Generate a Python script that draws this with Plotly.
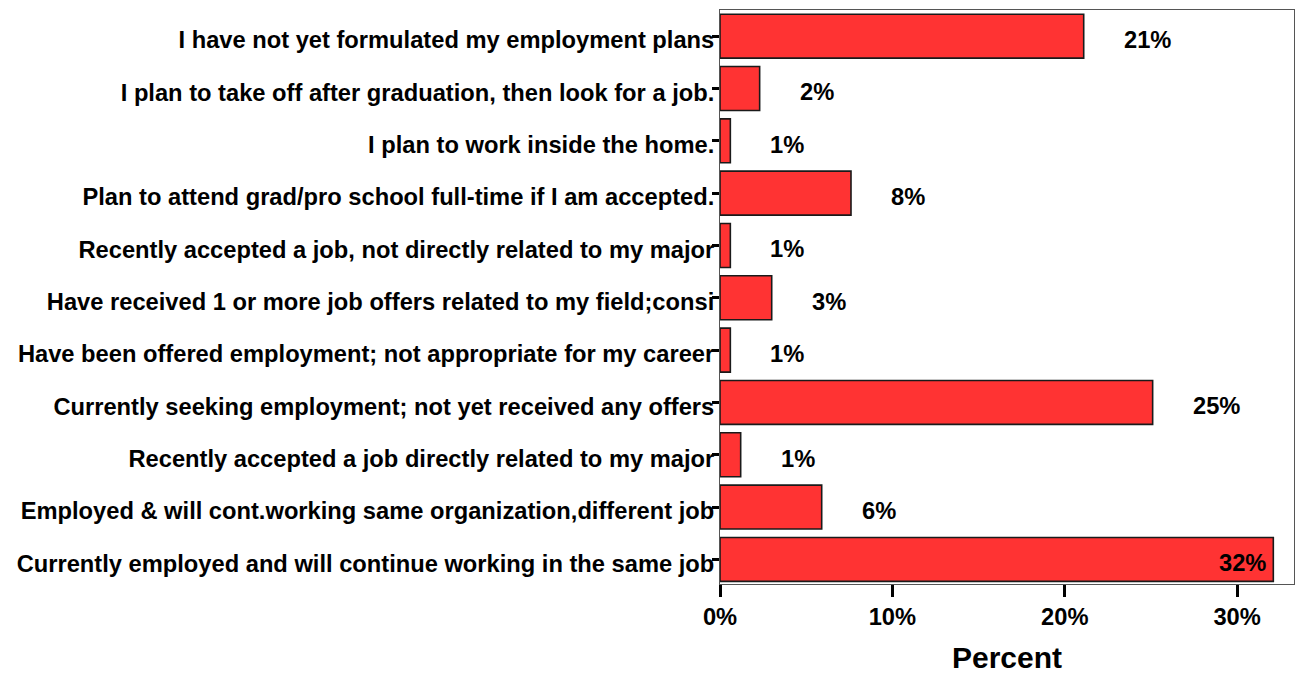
import plotly.graph_objects as go

categories = [
    "I have not yet formulated my employment plans",
    "I plan to take off after graduation, then look for a job.",
    "I plan to work inside the home.",
    "Plan to attend grad/pro school full-time if I am accepted.",
    "Recently accepted a job, not directly related to my major",
    "Have received 1 or more job offers related to my field;consi",
    "Have been offered employment; not appropriate for my career",
    "Currently seeking employment; not yet received any offers",
    "Recently accepted a job directly related to my major",
    "Employed & will cont.working same organization,different job",
    "Currently employed and will continue working in the same job",
]
values = [21.1, 2.3, 0.6, 7.6, 0.6, 3.0, 0.6, 25.1, 1.2, 5.9, 32.1]
value_labels = ["21%", "2%", "1%", "8%", "1%", "3%", "1%", "25%", "1%", "6%", "32%"]
x_ticks = [0, 10, 20, 30]
x_tick_labels = ["0%", "10%", "20%", "30%"]

FONT = "Liberation Sans, Arial, sans-serif"
FS = 23.7

fig = go.Figure()
fig.add_trace(go.Bar(
    x=values,
    y=categories,
    orientation="h",
    width=0.84,
    marker=dict(color="#FF3333", line=dict(color="#1a1a1a", width=1.6)),
    hoverinfo="skip",
))

annotations = []
for cat, v, lab in zip(categories, values, value_labels):
    inside = v > 30
    annotations.append(dict(
        x=v, y=cat, xref="x", yref="y",
        text=lab, showarrow=False,
        xanchor="right" if inside else "left",
        xshift=-5 if inside else 38,
        yshift=-4,
        font=dict(family=FONT, size=FS, color="black", weight="bold"),
    ))

fig.update_layout(
    width=1295, height=674,
    margin=dict(l=720, r=1, t=10, b=90, autoexpand=False),
    paper_bgcolor="white", plot_bgcolor="white",
    showlegend=False,
    annotations=annotations,
    font=dict(family=FONT, size=FS, color="black", weight="bold"),
)
fig.update_xaxes(
    range=[0, 33.3],
    tickvals=x_ticks, ticktext=x_tick_labels,
    ticks="outside", ticklen=12, tickwidth=3, tickcolor="black",
    showline=True, linecolor="#555555", linewidth=1, mirror=True,
    showgrid=False, zeroline=False,
    tickfont=dict(family=FONT, size=FS, color="black", weight="bold"),
    title=dict(text="Percent", font=dict(family=FONT, size=30, color="black", weight="bold"), standoff=18),
)
fig.update_yaxes(
    type="category",
    categoryorder="array", categoryarray=categories,
    range=[len(categories) - 0.53, -0.5],
    ticks="outside", ticklen=7, tickwidth=3, tickcolor="black",
    showline=True, linecolor="#555555", linewidth=1, mirror=True,
    showgrid=False, zeroline=False,
    ticklabelstandoff=-7,
    ticklabelshift=-4,
    tickfont=dict(family=FONT, size=FS, color="black", weight="bold"),
)

fig.write_html(
    "out.html",
    config={"displayModeBar": False},
    post_script="document.body.style.margin='0';document.body.style.overflow='hidden';",
)
